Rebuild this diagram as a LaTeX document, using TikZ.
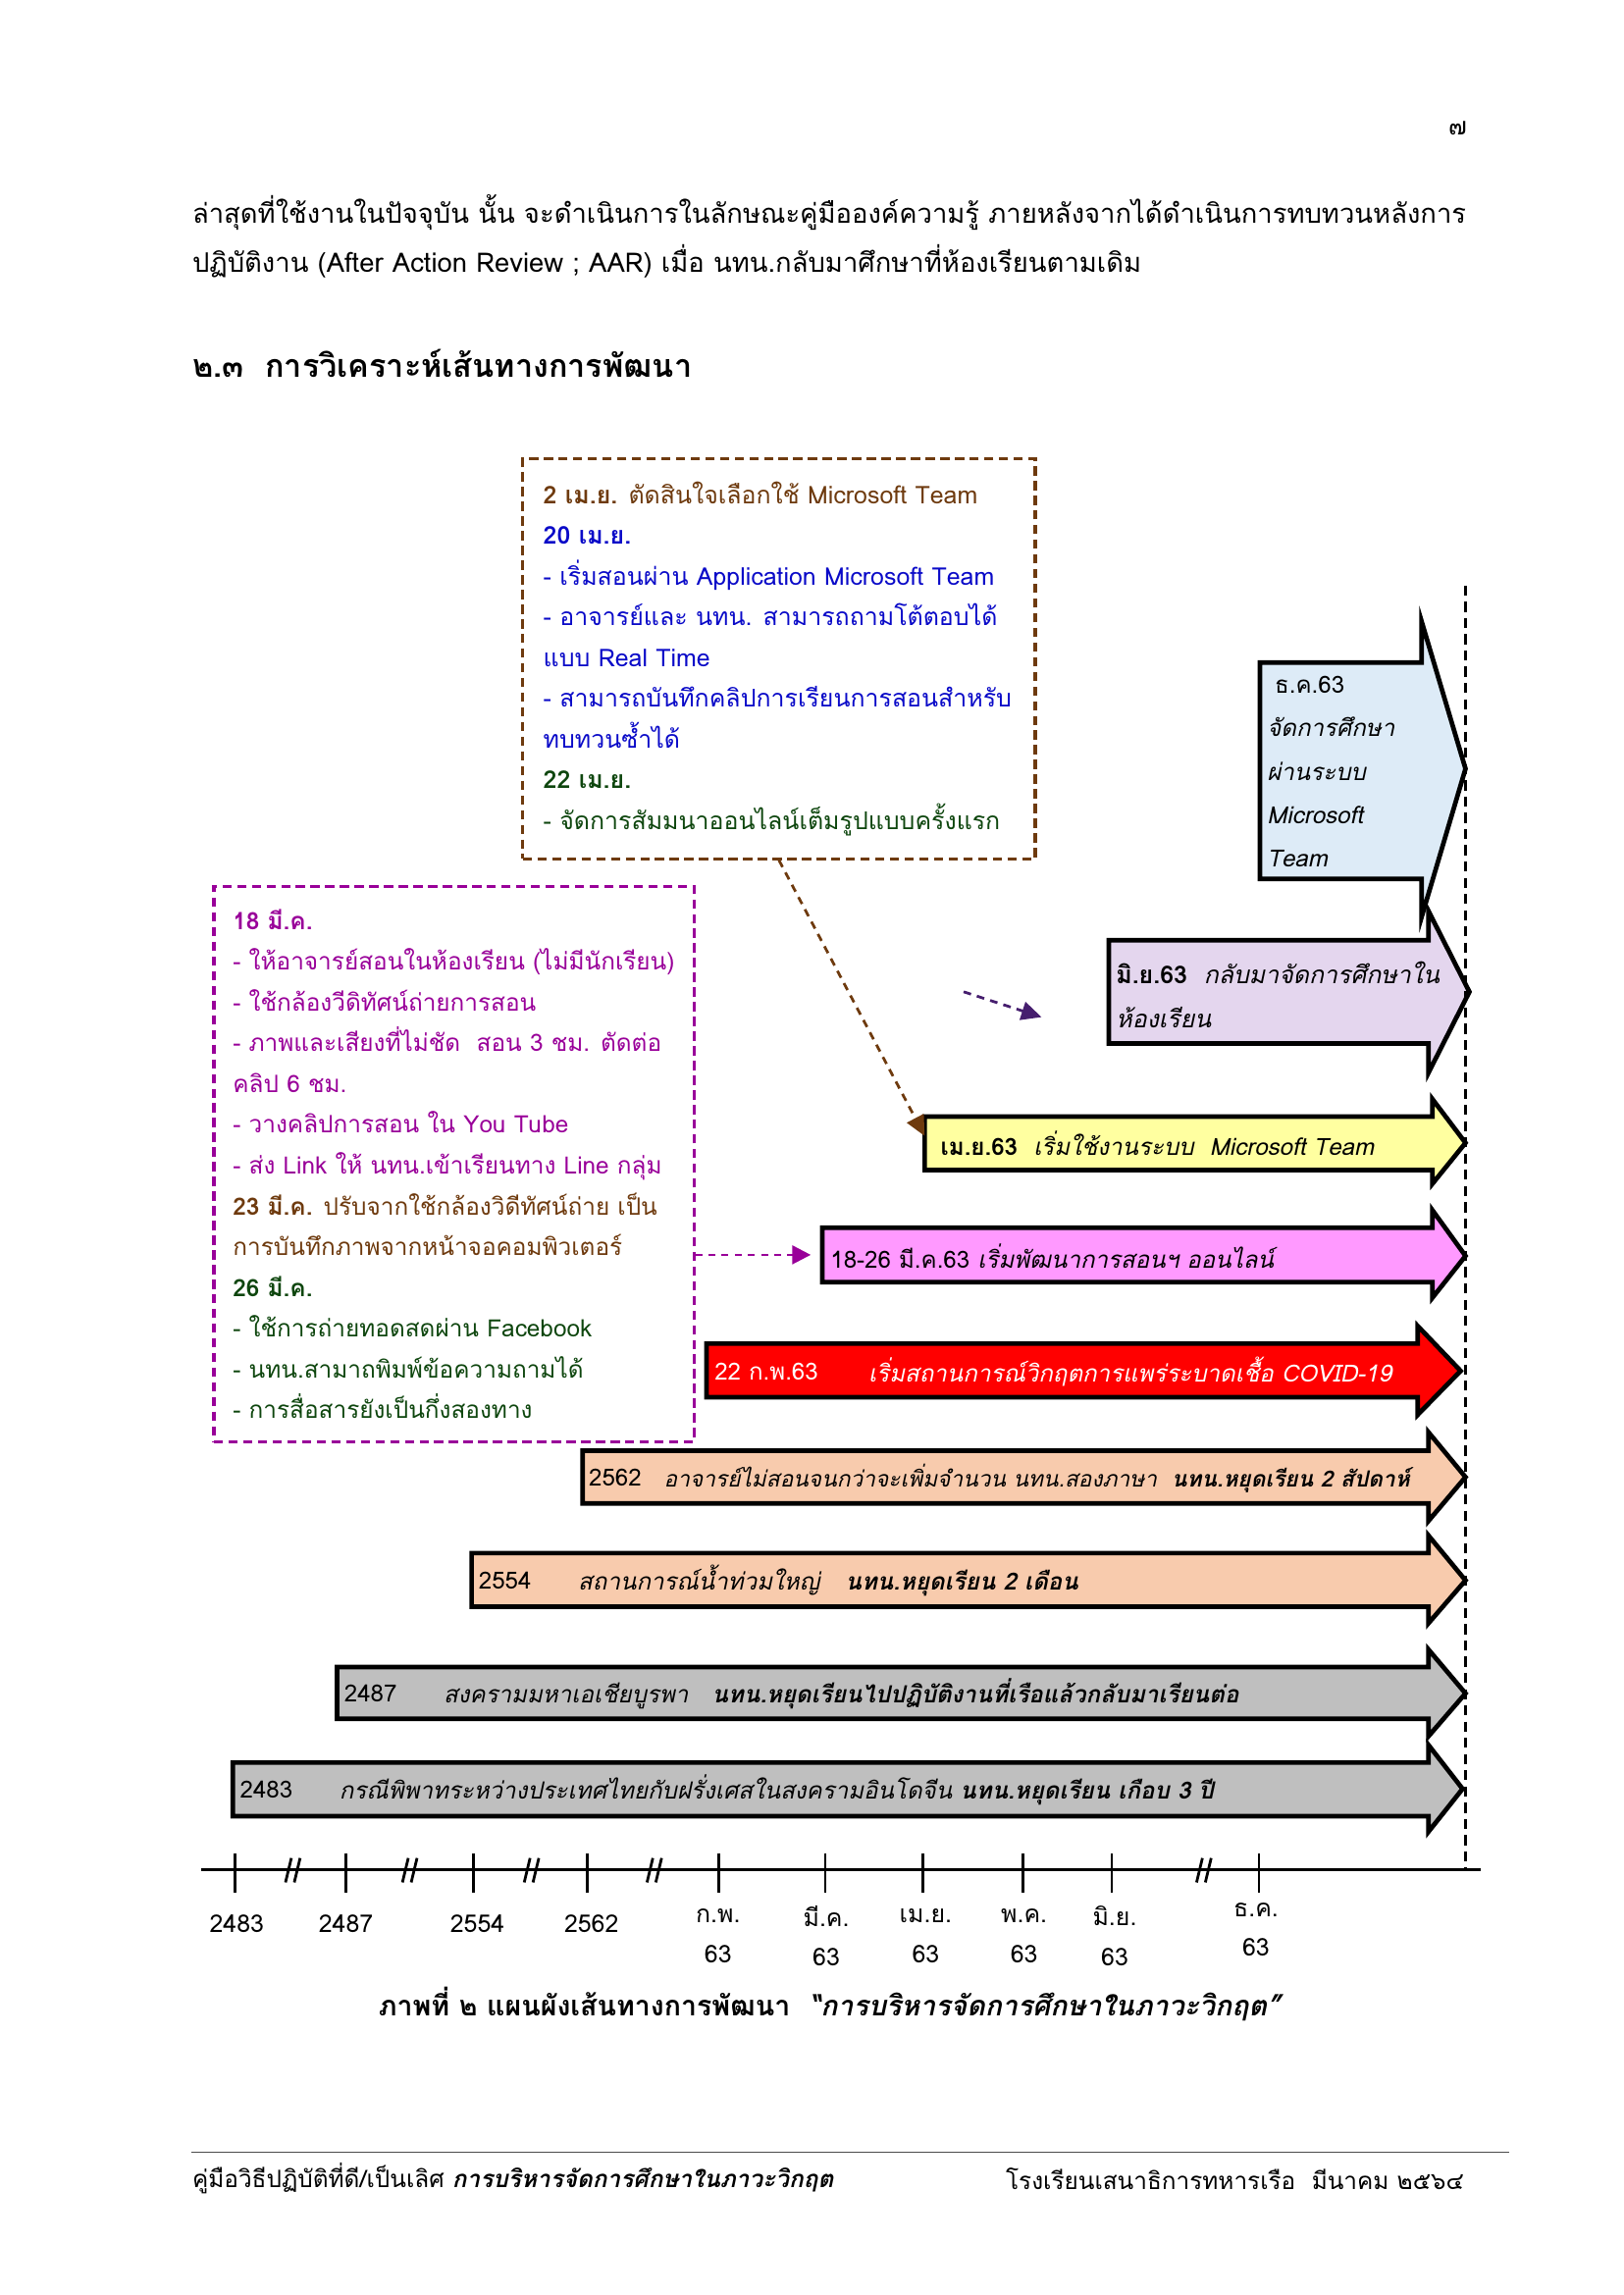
\documentclass[tikz,border=0pt]{standalone}
\usepackage{fontspec}
\setmainfont{Loma}[Script=Thai]
\usetikzlibrary{arrows.meta}
\tikzstyle{every path}=[line width=1pt]
\tikzstyle{timearrow} = [draw=black, line width=1.7pt, line join=miter]
\tikzstyle{tag} = [anchor=west, inner sep=0pt, font=\fontsize{8.7}{16}\selectfont]
\tikzstyle{notebox} = [dash pattern=on 1.2mm off 0.7mm, line width=1.1pt, anchor=north west]
\tikzstyle{notetext} = [anchor=west, inner sep=0pt, align=left, font=\fontsize{9}{15}\selectfont]
\tikzstyle{axislabel} = [inner sep=0pt, font=\fontsize{9}{14.5}\selectfont]
\definecolor{boxbrown}{RGB}{110,58,14}
\definecolor{noteblue}{RGB}{10,10,200}
\definecolor{notegreen}{RGB}{14,70,14}
\definecolor{notepurple}{RGB}{153,0,153}
\definecolor{darkviolet}{RGB}{70,30,110}
\definecolor{decfill}{RGB}{221,235,247}
\definecolor{junfill}{RGB}{228,214,238}
\definecolor{aprfill}{RGB}{255,255,160}
\definecolor{marfill}{RGB}{255,153,255}
\definecolor{febfill}{RGB}{255,0,0}
\definecolor{peachfill}{RGB}{248,203,173}
\definecolor{warfill}{RGB}{191,191,191}
\begin{document}
\begin{tikzpicture}[x=0.12697mm, y=-0.12697mm]
            \useasboundingbox (0,0) rectangle (1654,2339);
        \begin{scope}[scale=0.993]
            % page text
            \node (pageno) [axislabel] at (1496,132) {๗};
            \node (para1) [tag, font=\fontsize{9.9}{18}\selectfont] at (196,218)
                {ล่าสุดที่ใช้งานในปัจจุบัน นั้น จะดำเนินการในลักษณะคู่มือองค์ความรู้ ภายหลังจากได้ดำเนินการทบทวนหลังการ};
            \node (para2) [tag, font=\fontsize{9.9}{18}\selectfont] at (196,268)
                {ปฏิบัติงาน (After Action Review ; AAR) เมื่อ นทน.กลับมาศึกษาที่ห้องเรียนตามเดิม};
            \node (heading) [tag, font=\fontsize{11.7}{18}\selectfont\bfseries] at (196,373)
                {๒.๓\ \ การวิเคราะห์เส้นทางการพัฒนา};

            % notes
            \node (aprbox) [notebox, draw=boxbrown, minimum width=66.3mm, minimum height=51.8mm] at (535,469) {};
            \node (aprtext) [notetext] at ([xshift=2.7mm]aprbox.west)
                {\textcolor{boxbrown}{\textbf{2 เม.ย.} ตัดสินใจเลือกใช้ Microsoft Team}\\
                 \textcolor{noteblue}{\textbf{20 เม.ย.}}\\
                 \textcolor{noteblue}{- เริ่มสอนผ่าน Application Microsoft Team}\\
                 \textcolor{noteblue}{- อาจารย์และ นทน. สามารถถามโต้ตอบได้}\\
                 \textcolor{noteblue}{แบบ Real Time}\\
                 \textcolor{noteblue}{- สามารถบันทึกคลิปการเรียนการสอนสำหรับ}\\
                 \textcolor{noteblue}{ทบทวนซ้ำได้}\\
                 \textcolor{notegreen}{\textbf{22 เม.ย.}}\\
                 \textcolor{notegreen}{- จัดการสัมมนาออนไลน์เต็มรูปแบบครั้งแรก}};

            \node (marbox) [notebox, draw=notepurple, minimum width=62.1mm, minimum height=71.9mm] at (218,908) {};
            \node (martext) [notetext, font=\fontsize{8.8}{15}\selectfont] at ([xshift=2.5mm]marbox.west)
                {\textcolor{notepurple}{\textbf{18 มี.ค.}}\\
                 \textcolor{notepurple}{- ให้อาจารย์สอนในห้องเรียน (ไม่มีนักเรียน)}\\
                 \textcolor{notepurple}{- ใช้กล้องวีดิทัศน์ถ่ายการสอน}\\
                 \textcolor{notepurple}{- ภาพและเสียงที่ไม่ชัด\ \ สอน 3 ชม. ตัดต่อ}\\
                 \textcolor{notepurple}{คลิป 6 ชม.}\\
                 \textcolor{notepurple}{- วางคลิปการสอน ใน You Tube}\\
                 \textcolor{notepurple}{- ส่ง Link ให้ นทน.เข้าเรียนทาง Line กลุ่ม}\\
                 \textcolor{boxbrown}{\textbf{23 มี.ค.} ปรับจากใช้กล้องวิดีทัศน์ถ่าย เป็น}\\
                 \textcolor{boxbrown}{การบันทึกภาพจากหน้าจอคอมพิวเตอร์}\\
                 \textcolor{notegreen}{\textbf{26 มี.ค.}}\\
                 \textcolor{notegreen}{- ใช้การถ่ายทอดสดผ่าน Facebook}\\
                 \textcolor{notegreen}{- นทน.สามาถพิมพ์ข้อความถามได้}\\
                 \textcolor{notegreen}{- การสื่อสารยังเป็นกึ่งสองทาง}};

            % block arrows, newest on top
            \filldraw[timearrow, fill=decfill] (1293,680) -- (1459,680) -- (1459,638) -- (1504,789)
                -- (1459,941) -- (1459,902) -- (1293,902) -- cycle;
            \node (dectext) [tag, align=left] at (1299,792)
                {\hspace*{1.0mm}ธ.ค.63\\ \textit{จัดการศึกษา}\\ \textit{ผ่านระบบ}\\ \textit{Microsoft}\\ \textit{Team}};

            \filldraw[timearrow, fill=junfill] (1138,965) -- (1466,965) -- (1466,935) -- (1508,1018)
                -- (1466,1101) -- (1466,1071) -- (1138,1071) -- cycle;
            \node (juntext) [tag, align=left, font=\fontsize{9}{16.5}\selectfont] at (1144,1021)
                {\textbf{มิ.ย.63}\ \ \textit{กลับมาจัดการศึกษาใน}\\ \textit{ห้องเรียน}};

            \filldraw[timearrow, fill=aprfill] (949,1146) -- (1470,1146) -- (1470,1128) -- (1504,1173)
                -- (1470,1215) -- (1470,1201) -- (949,1201) -- cycle;
            \coordinate (apr63) at (949,1166);
            \node (aprlabel) [tag] at (964,1173) {\textbf{เม.ย.63}\ \ \textit{เริ่มใช้งานระบบ\ \ Microsoft Team}};

            \filldraw[timearrow, fill=marfill] (844,1260) -- (1470,1260) -- (1470,1242) -- (1504,1289)
                -- (1470,1332) -- (1470,1316) -- (844,1316) -- cycle;
            \coordinate (mar63) at (844,1288);
            \node (marlabel) [tag] at (851,1289) {18-26 มี.ค.63 \textit{เริ่มพัฒนาการสอนฯ ออนไลน์}};

            \filldraw[timearrow, fill=febfill] (725,1379) -- (1455,1379) -- (1455,1361) -- (1499,1407)
                -- (1455,1452) -- (1455,1434) -- (725,1434) -- cycle;
            \node (feblabel) [tag, text=white] at (732,1408) {22 ก.พ.63};
            \node (febtext) [tag, text=white] at (890,1408) {\textit{เริ่มสถานการณ์วิกฤตการแพร่ระบาดเชื้อ COVID-19}};

            \filldraw[timearrow, fill=peachfill] (598,1489) -- (1466,1489) -- (1466,1470) -- (1504,1516)
                -- (1466,1561) -- (1466,1543) -- (598,1543) -- cycle;
            \node (y2562) [tag] at (603,1517) {2562};
            \node (t2562) [tag, font=\fontsize{8.2}{16}\selectfont] at (680,1517) {\textit{อาจารย์ไม่สอนจนกว่าจะเพิ่มจำนวน นทน.สองภาษา}\ \ \textbf{\textit{นทน.หยุดเรียน 2 สัปดาห์}}};

            \filldraw[timearrow, fill=peachfill] (484,1594) -- (1466,1594) -- (1466,1576) -- (1504,1622)
                -- (1466,1666) -- (1466,1649) -- (484,1649) -- cycle;
            \node (y2554) [tag] at (490,1622) {2554};
            \node (t2554) [tag] at (592,1622) {\textit{สถานการณ์น้ำท่วมใหญ่}\ \ \ \textbf{\textit{นทน.หยุดเรียน 2 เดือน}}};

            \filldraw[timearrow, fill=warfill] (346,1711) -- (1466,1711) -- (1466,1693) -- (1504,1738)
                -- (1466,1782) -- (1466,1764) -- (346,1764) -- cycle;
            \node (y2487) [tag] at (352,1738) {2487};
            \node (t2487) [tag] at (454,1738) {\textit{สงครามมหาเอเชียบูรพา}\ \ \ \textbf{\textit{นทน.หยุดเรียนไปปฏิบัติงานที่เรือแล้วกลับมาเรียนต่อ}}};

            \filldraw[timearrow, fill=warfill] (239,1809) -- (1466,1809) -- (1466,1791) -- (1501,1836)
                -- (1466,1880) -- (1466,1864) -- (239,1864) -- cycle;
            \node (y2483) [tag] at (245,1837) {2483};
            \node (t2483) [tag] at (347,1837) {\textit{กรณีพิพาทระหว่างประเทศไทยกับฝรั่งเศสในสงครามอินโดจีน} \textbf{\textit{นทน.หยุดเรียน เกือบ 3 ปี}}};

            % links
            \draw [boxbrown, dash pattern=on 1mm off 0.8mm, -{Triangle[length=2.6mm, width=2.4mm]}]
                (aprbox.south) -- (apr63);
            \draw [notepurple, dash pattern=on 0.9mm off 0.8mm, shorten >=1.5mm, -{Triangle[length=2.4mm, width=2.4mm]}]
                (marbox.east |- mar63) -- (mar63);
            \coordinate (junfrom) at (989,1018);
            \coordinate (junto) at (1069,1044);
            \draw [darkviolet, dash pattern=on 1mm off 0.8mm, -{Triangle[length=2.6mm, width=2.4mm]}]
                (junfrom) -- (junto);

            % time axis
            \draw [line width=1pt, dash pattern=on 1.3mm off 0.8mm] (1504,601) -- (1504,1919);
            \draw [line width=1.3pt] (206,1919) -- (1520,1919);
            \foreach \t in {241,355,486,603,738,847,947,1050,1141,1292}
                \draw [line width=1pt] (\t,1902) -- (\t,1943);
            \foreach \b in {301,421,546,672,1236} {
                \draw [line width=1pt] (\b-8,1932) -- (\b-2,1907);
                \draw [line width=1pt] (\b+1,1932) -- (\b+7,1907);
            }
            \node (a2483) [axislabel] at (243,1974) {2483};
            \node (a2487) [axislabel] at (355,1974) {2487};
            \node (a2554) [axislabel] at (490,1974) {2554};
            \node (a2562) [axislabel] at (607,1974) {2562};
            \node (afeb) [axislabel, align=center] at (737,1987) {ก.พ.\\63};
            \node (amar) [axislabel, align=center] at (848,1987) {มี.ค.\\63};
            \node (aapr) [axislabel, align=center] at (950,1987) {เม.ย.\\63};
            \node (amay) [axislabel, align=center] at (1051,1987) {พ.ค.\\63};
            \node (ajun) [axislabel, align=center] at (1144,1987) {มิ.ย.\\63};
            \node (adec) [axislabel, align=center] at (1289,1980) {ธ.ค.\\63};

            % caption and footer
            \node (caption) [axislabel, font=\fontsize{10.3}{14}\selectfont\bfseries] at (853,2057)
                {ภาพที่ ๒ แผนผังเส้นทางการพัฒนา\ \ \textit{“การบริหารจัดการศึกษาในภาวะวิกฤต”}};
            \draw [line width=0.5pt, black!70] (196,2209) -- (1549,2209);
            \node (footleft) [tag, font=\fontsize{8.8}{14}\selectfont] at (196,2236)
                {คู่มือวิธีปฏิบัติที่ดี/เป็นเลิศ \textbf{\textit{การบริหารจัดการศึกษาในภาวะวิกฤต}}};
            \node (footright) [tag, anchor=east, font=\fontsize{8.8}{14}\selectfont] at (1504,2236)
                {โรงเรียนเสนาธิการทหารเรือ\ \ มีนาคม ๒๕๖๔};
        \end{scope}
        \end{tikzpicture}
\end{document}
